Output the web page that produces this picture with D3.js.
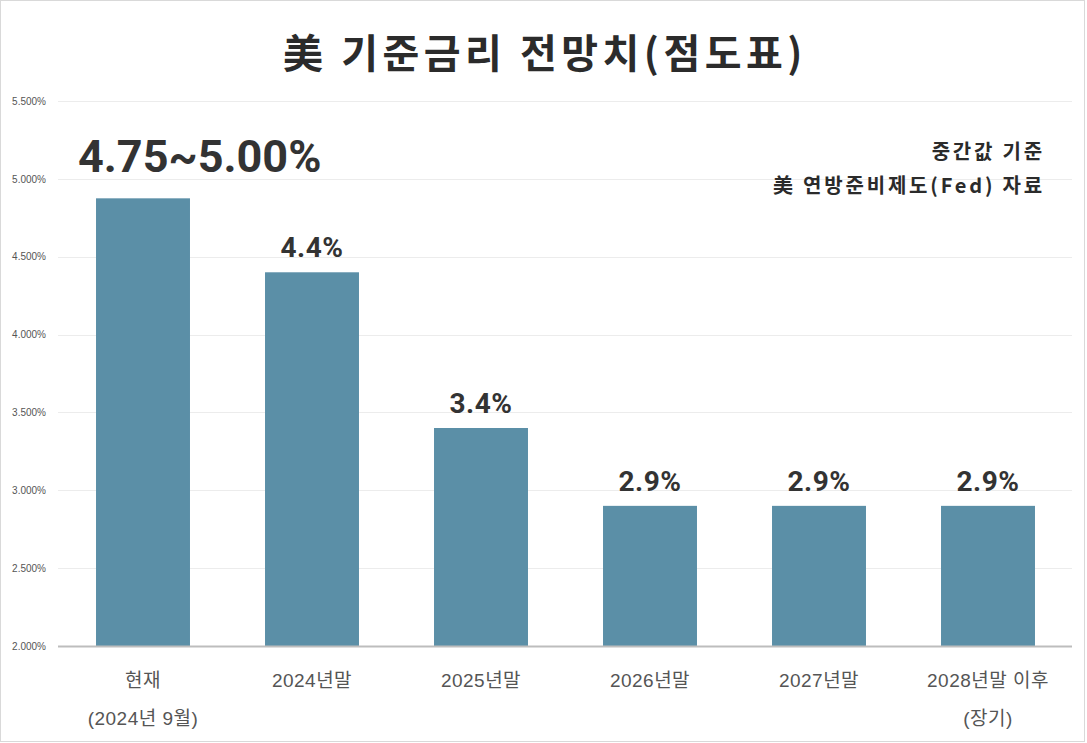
<!DOCTYPE html>
<html><head><meta charset="utf-8">
<script src="https://cdn.jsdelivr.net/npm/d3@7"></script>
<style>
html,body{margin:0;padding:0;background:#fff;}
svg{display:block;font-family:"Noto Sans CJK KR","Noto Sans",sans-serif;}
</style></head>
<body>
<svg id="c" width="1087" height="743"></svg>
<script>
const categories = [["현재","(2024년 9월)"],["2024년말"],["2025년말"],["2026년말"],["2027년말"],["2028년말 이후","(장기)"]];
const values = [4.875, 4.4, 3.4, 2.9, 2.9, 2.9];
const valueLabels = ["4.75~5.00%","4.4%","3.4%","2.9%","2.9%","2.9%"];
const yTicks = [2.0, 2.5, 3.0, 3.5, 4.0, 4.5, 5.0, 5.5];
const title = "美 기준금리 전망치(점도표)";
const notes = ["중간값 기준","美 연방준비제도(Fed) 자료"];

const svg = d3.select("#c");
const W = 1087, H = 743;
svg.append("rect").attr("x",0.5).attr("y",0.5).attr("width",W-3).attr("height",H-2)
  .attr("fill","#fff").attr("stroke","#d9d9d9");

const x = d3.scaleBand().domain(d3.range(values.length)).range([58.5,1072.5]).paddingInner(0.444).paddingOuter(0.222);
const y = d3.scaleLinear().domain([2.0,5.5]).range([646,101]);

// gridlines
svg.append("g").selectAll("line").data(yTicks.slice(1)).join("line")
  .attr("x1",58).attr("x2",1072).attr("y1",d=>Math.round(y(d))+0.5).attr("y2",d=>Math.round(y(d))+0.5)
  .attr("stroke","#ececec");

// y axis labels
const yAxis = d3.axisLeft(y).tickValues(yTicks).tickFormat(d=>d3.format(".3f")(d)+"%").tickSize(0).tickPadding(0);
const ya = svg.append("g").attr("transform","translate(46,0)").call(yAxis);
ya.select(".domain").remove();
ya.selectAll("text").attr("font-family","Liberation Sans, Arial, sans-serif").attr("font-size",10).attr("fill","#555");

// bars
svg.append("g").selectAll("rect").data(values).join("rect")
  .attr("x",(d,i)=>x(i)).attr("width",x.bandwidth())
  .attr("y",d=>y(d)).attr("height",d=>y(2.0)-y(d))
  .attr("fill","#5b8fa7");

// axis line
svg.append("line").attr("x1",58).attr("x2",1072).attr("y1",646.5).attr("y2",646.5)
  .attr("stroke","#bdbdbd").attr("stroke-width",2);

// value labels
svg.append("g").selectAll("text").data(values).join("text")
  .attr("x",(d,i)=> i===0 ? 78 : x(i)+x.bandwidth()/2)
  .attr("y",(d,i)=> i===0 ? 172 : y(d)-15)
  .attr("text-anchor",(d,i)=> i===0 ? "start" : "middle")
  .attr("font-family","Roboto, 'Liberation Sans', sans-serif")
  .attr("font-weight","bold")
  .attr("font-size",(d,i)=> i===0 ? 45 : 28)
  .attr("letter-spacing",(d,i)=> i===0 ? 0 : 0.5)
  .attr("fill","#333")
  .text((d,i)=>valueLabels[i]);

// category labels
const cat = svg.append("g").selectAll("text").data(categories).join("text")
  .attr("x",(d,i)=>x(i)+x.bandwidth()/2)
  .attr("y",687)
  .attr("text-anchor","middle")
  .attr("font-family","'Liberation Sans','Noto Sans CJK KR',sans-serif")
  .attr("font-size",19)
  .attr("letter-spacing",0.5)
  .attr("fill","#555");
cat.each(function(d){
  const t = d3.select(this);
  d.forEach((s,k)=>t.append("tspan").attr("x",t.attr("x")).attr("dy",k===0?0:38).text(s));
});

// title
svg.append("text").attr("x",545).attr("y",68).attr("text-anchor","middle")
  .attr("font-size",40).attr("font-weight","bold").attr("letter-spacing",4.5).attr("fill","#2b2b2b").text(title);

// notes
svg.append("g").selectAll("text").data(notes).join("text")
  .attr("x",1045).attr("y",(d,i)=>159+i*34).attr("text-anchor","end")
  .attr("font-size",20).attr("font-weight","bold").attr("letter-spacing",2.8).attr("fill","#2b2b2b").text(d=>d);
</script>
</body></html>
